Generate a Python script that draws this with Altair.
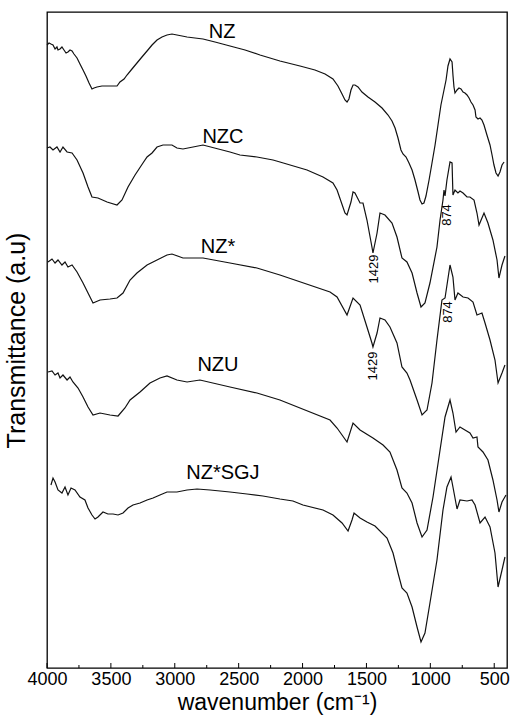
import altair as alt
import pandas as pd

# ---- data ----
nz_w = [4000, 3984, 3969, 3953, 3937, 3922, 3914, 3898, 3883, 3867, 3851, 3836, 3820, 3804, 3789, 3765, 3742, 3718, 3695, 3671, 3648, 3632, 3609, 3570, 3530, 3491, 3452, 3429, 3397, 3374, 3335, 3296, 3257, 3217, 3178, 3139, 3100, 3061, 3022, 2983, 2943, 2904, 2842, 2779, 2685, 2568, 2450, 2333, 2177, 2020, 1903, 1824, 1762, 1723, 1691, 1668, 1652, 1637, 1621, 1605, 1590, 1566, 1535, 1488, 1433, 1378, 1331, 1300, 1276, 1253, 1230, 1214, 1190, 1167, 1143, 1120, 1096, 1081, 1065, 1050, 1034, 1010, 987, 963, 940, 917, 893, 877, 862, 846, 830, 823, 815, 807, 791, 776, 760, 744, 729, 713, 697, 682, 666, 650, 643, 627, 611, 596, 580, 557, 533, 517, 502, 486, 470, 455, 439, 423]
nz_t = [623, 625, 624, 623, 619, 621, 618, 619, 621, 618, 615, 616, 618, 617, 614, 610, 604, 598, 592, 585, 579, 580, 581, 582, 582, 582, 582, 586, 589, 593, 599, 605, 611, 617, 623, 628, 631, 633, 634, 633, 632, 631, 630, 629, 626, 622, 618, 613, 607, 602, 598, 594, 589, 582, 574, 568, 566, 569, 578, 583, 583, 581, 576, 571, 566, 560, 553, 547, 540, 530, 518, 514, 511, 505, 498, 488, 476, 468, 464, 465, 472, 488, 505, 523, 543, 563, 578, 588, 602, 609, 606, 593, 581, 575, 578, 580, 579, 576, 575, 573, 570, 566, 563, 558, 551, 549, 550, 548, 543, 533, 523, 513, 503, 495, 492, 496, 503, 506]

nzc_w = [4000, 3977, 3953, 3922, 3898, 3875, 3843, 3804, 3765, 3718, 3679, 3648, 3601, 3530, 3452, 3413, 3366, 3311, 3249, 3217, 3178, 3139, 3092, 3022, 2983, 2936, 2857, 2779, 2568, 2490, 2357, 2231, 2177, 1965, 1840, 1762, 1730, 1668, 1652, 1621, 1605, 1590, 1550, 1527, 1496, 1457, 1449, 1417, 1394, 1355, 1300, 1261, 1222, 1183, 1143, 1104, 1073, 1042, 1003, 948, 924, 901, 893, 885, 870, 846, 830, 823, 807, 784, 768, 744, 713, 690, 658, 635, 619, 580, 549, 510, 478, 463, 439, 416]
nzc_t = [520, 521, 518, 521, 516, 521, 516, 515, 508, 495, 481, 471, 470, 466, 463, 468, 481, 493, 505, 511, 515, 521, 523, 523, 520, 519, 521, 523, 516, 513, 511, 508, 506, 498, 491, 485, 478, 455, 453, 466, 476, 475, 465, 465, 448, 421, 415, 435, 455, 453, 445, 431, 410, 406, 395, 375, 361, 365, 385, 421, 448, 468, 478, 472, 488, 506, 505, 473, 478, 475, 477, 475, 471, 471, 468, 455, 443, 455, 445, 428, 408, 390, 403, 412]

nzs_w = [3992, 3961, 3937, 3914, 3883, 3859, 3836, 3804, 3765, 3718, 3679, 3640, 3585, 3507, 3452, 3405, 3350, 3296, 3217, 3139, 3061, 3022, 2936, 2779, 2568, 2357, 2177, 1785, 1730, 1652, 1605, 1550, 1496, 1457, 1449, 1417, 1394, 1355, 1316, 1261, 1222, 1183, 1159, 1104, 1065, 1026, 987, 948, 909, 885, 846, 823, 807, 784, 744, 705, 666, 635, 596, 572, 533, 494, 470, 439, 416]
nzs_t = [406, 409, 405, 408, 403, 406, 401, 403, 396, 385, 375, 365, 368, 369, 370, 375, 388, 395, 403, 408, 413, 414, 410, 410, 405, 400, 393, 376, 371, 353, 370, 363, 341, 325, 321, 335, 350, 348, 341, 325, 301, 295, 288, 268, 253, 258, 285, 328, 368, 370, 403, 391, 368, 375, 371, 370, 366, 353, 355, 345, 328, 308, 285, 295, 303]

nzu_w = [3992, 3961, 3937, 3914, 3898, 3875, 3843, 3820, 3797, 3757, 3718, 3679, 3640, 3585, 3507, 3444, 3390, 3350, 3272, 3194, 3116, 3061, 2983, 2904, 2803, 2568, 2357, 2177, 1785, 1730, 1652, 1605, 1550, 1449, 1370, 1316, 1261, 1222, 1183, 1143, 1104, 1065, 1026, 979, 924, 885, 846, 823, 799, 768, 729, 690, 666, 635, 627, 588, 549, 510, 478, 463, 439, 408]
nzu_t = [296, 297, 293, 295, 290, 293, 288, 291, 286, 280, 271, 261, 253, 255, 253, 252, 260, 268, 276, 285, 290, 292, 288, 286, 288, 281, 275, 268, 248, 240, 226, 245, 238, 230, 223, 216, 198, 180, 175, 165, 145, 131, 138, 171, 218, 251, 268, 255, 236, 241, 238, 235, 230, 231, 221, 216, 208, 188, 168, 156, 166, 173]

sgj_w = [3969, 3953, 3937, 3914, 3883, 3859, 3836, 3812, 3781, 3742, 3703, 3679, 3648, 3624, 3601, 3562, 3523, 3483, 3444, 3405, 3366, 3327, 3272, 3217, 3170, 3116, 3061, 2983, 2904, 2826, 2724, 2568, 2435, 2310, 2177, 2075, 1997, 1840, 1762, 1691, 1644, 1613, 1597, 1550, 1496, 1433, 1339, 1292, 1253, 1222, 1183, 1143, 1104, 1073, 1042, 1003, 948, 901, 870, 838, 823, 791, 768, 713, 674, 650, 611, 572, 533, 494, 470, 439, 416]
sgj_t = [183, 190, 186, 178, 175, 181, 173, 180, 178, 171, 168, 160, 153, 149, 151, 156, 154, 154, 153, 155, 160, 163, 165, 168, 170, 173, 176, 176, 178, 179, 178, 176, 174, 172, 169, 167, 163, 158, 153, 145, 137, 148, 155, 150, 146, 142, 130, 115, 95, 80, 75, 61, 41, 26, 35, 65, 108, 158, 181, 191, 181, 159, 168, 167, 168, 163, 145, 151, 141, 115, 81, 98, 111]

series_names = ["NZ", "NZC", "NZ*", "NZU", "NZ*SGJ"]
label_w = [2630, 2623, 2662, 2662, 2623]
label_t = [636, 531, 421, 303, 195]

peak_text = ["1429", "874", "1429", "874"]
peak_w = [1441, 869, 1449, 861]
peak_t = [399, 453, 302, 356]

major_ticks = [4000, 3500, 3000, 2500, 2000, 1500, 1000, 500]
minor_ticks = [3750, 3250, 2750, 2250, 1750, 1250, 750]

# ---- tables ----
rows = []
for name, ws, ts in zip(series_names, [nz_w, nzc_w, nzs_w, nzu_w, sgj_w],
                        [nz_t, nzc_t, nzs_t, nzu_t, sgj_t]):
    for w, t in zip(ws, ts):
        rows.append({"series": name, "w": w, "t": t})
df = pd.DataFrame(rows)
labels_df = pd.DataFrame({"label": series_names, "w": label_w, "t": label_t})
peaks_df = pd.DataFrame({"label": peak_text, "w": peak_w, "t": peak_t})
major_df = pd.DataFrame({"w": major_ticks})
minor_df = pd.DataFrame({"w": minor_ticks})

FONT = "Liberation Sans"
xscale = alt.Scale(domain=[400, 4000], reverse=True, nice=False, zero=False)
yscale = alt.Scale(domain=[0, 656], nice=False, zero=False)

xaxis = alt.Axis(values=major_ticks, format="d", tickSize=0, domain=False, grid=False,
                 labelFont=FONT, labelFontSize=18, labelColor="black", labelPadding=2,
                 labelFlush=False, title="wavenumber (cm\u207b\u00b9)", titleFont=FONT,
                 titleFontSize=23, titleFontWeight="normal", titleColor="black",
                 titlePadding=3)
yaxis = alt.Axis(labels=False, ticks=False, domain=False, grid=False,
                 title="Transmittance (a.u)", titleFont=FONT, titleFontSize=25,
                 titleFontWeight="normal", titleColor="black", titlePadding=18)

lines = alt.Chart(df).mark_line(color="#111111", strokeWidth=1.2).encode(
    x=alt.X("w:Q", scale=xscale, axis=xaxis),
    y=alt.Y("t:Q", scale=yscale, axis=yaxis),
    detail="series:N",
    order=alt.Order("w:Q", sort="descending"),
)

labels = alt.Chart(labels_df).mark_text(font=FONT, fontSize=20, color="black",
                                        align="center", baseline="middle").encode(
    x=alt.X("w:Q", scale=xscale), y=alt.Y("t:Q", scale=yscale), text="label:N")

peaks = alt.Chart(peaks_df).mark_text(font=FONT, fontSize=13, color="black", angle=270,
                                      align="center", baseline="middle").encode(
    x=alt.X("w:Q", scale=xscale), y=alt.Y("t:Q", scale=yscale), text="label:N")

major = alt.Chart(major_df).mark_rule(color="black", strokeWidth=1).encode(
    x=alt.X("w:Q", scale=xscale), y=alt.value(656), y2=alt.value(651))
minor = alt.Chart(minor_df).mark_rule(color="black", strokeWidth=1).encode(
    x=alt.X("w:Q", scale=xscale), y=alt.value(656), y2=alt.value(653))

chart = alt.layer(lines, labels, peaks, major, minor).properties(
    width=460, height=656,
    padding={"left": 47, "top": 12, "right": 5, "bottom": 56},
    autosize=alt.AutoSizeParams(type="none"),
    background="white",
).configure_view(stroke="black", strokeWidth=1.3)

chart.save("out.html", embed_options={"renderer": "svg", "actions": False})
